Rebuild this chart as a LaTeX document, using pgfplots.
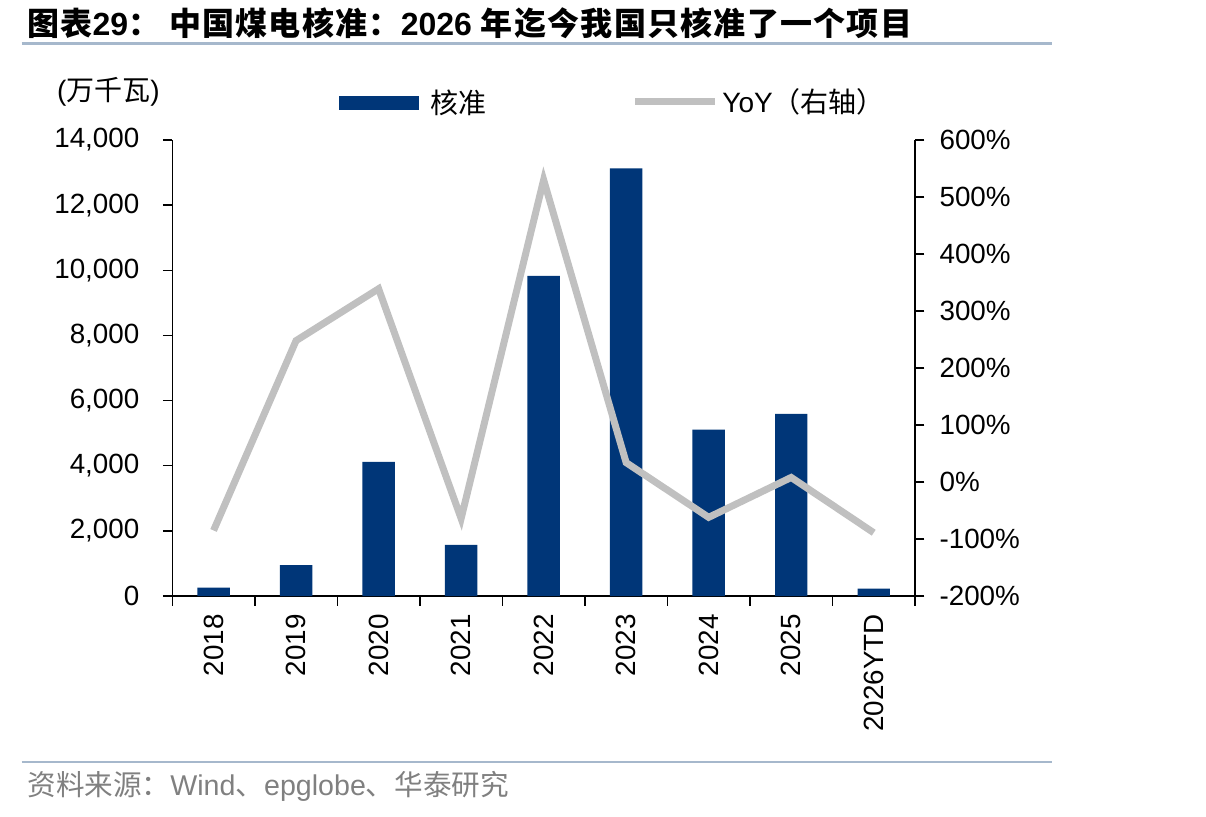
\documentclass[border=0pt]{standalone}
\usepackage{fontspec}
\setmainfont{Liberation Sans}
\newfontfamily\cjk{Noto Sans CJK SC}
\newfontfamily\cjkt[LetterSpace=4]{Noto Sans CJK SC}
\usepackage{pgfplots}
\usepackage{pgfplotstable}
\pgfplotsset{compat=1.18}
\definecolor{barblue}{RGB}{0,54,120}
\definecolor{linegray}{RGB}{192,192,192}
\definecolor{rulecol}{RGB}{166,184,204}
\definecolor{srcgray}{RGB}{128,128,128}

\pgfplotstableread{
x val yoy
0 260 -85
1 950 248
2 4120 339
3 1570 -64
4 9830 530
5 13130 34
6 5110 -62
7 5590 8
8 230 -89
}\data

\begin{document}
\begin{tikzpicture}
\path[use as bounding box] (0pt,0pt) rectangle (603pt,408pt);
% title
\node[anchor=west,inner sep=0pt] at (13.5pt,396.3pt) {\fontsize{16}{16}\selectfont\bfseries{\cjkt 图表}29{\cjkt ：}\ {\cjkt 中国煤电核准：}2026\ {\cjkt 年迄今我国只核准了一个项目}};
\draw[rulecol,line width=1.3pt] (10.75pt,386.3pt) -- (526pt,386.3pt);
\draw[rulecol,line width=1.1pt] (10.75pt,27pt) -- (526pt,27pt);
\node[anchor=west,inner sep=0pt,text=srcgray] at (13.5pt,15pt) {\fontsize{14.3}{14.3}\selectfont{\cjk 资料来源：}Wind{\cjk 、}epglobe{\cjk 、华泰研究}};
% unit
\node[anchor=west,inner sep=0pt] at (28.3pt,362pt) {\fontsize{14}{14}\selectfont({\cjk 万千瓦})};
% legend
\fill[barblue] (169.5pt,353pt) rectangle (209.5pt,360.1pt);
\node[anchor=west,inner sep=0pt] at (215pt,356.7pt) {\fontsize{14}{14}\selectfont\cjk 核准};
\draw[linegray,line width=3.5pt] (317.5pt,357pt) -- (357.5pt,357pt);
\node[anchor=west,inner sep=0pt] at (361pt,357pt) {\fontsize{14}{14}\selectfont YoY{\cjk （右轴）}};

\begin{axis}[
  at={(86.15pt,110pt)}, anchor=south west, scale only axis,
  width=371.35pt, height=228pt,
  xmin=-0.5, xmax=8.5, ymin=0, ymax=14000,
  axis y line*=left, axis x line*=bottom,
  ytick={0,2000,...,14000},
  scaled y ticks=false,
  tick align=outside, major tick length=4.75pt,
  axis line style={line width=0.75pt},
  every tick/.style={black,line width=0.75pt},
  /pgf/number format/1000 sep={,},
  /pgf/number format/assume math mode=true,
  yticklabel style={font=\fontsize{13.9}{13.9}\selectfont, xshift=-8.2pt},
  xtick={-0.5,0.5,...,8.5}, xticklabels={},
  extra x ticks={0,1,2,3,4,5,6,7,8},
  extra x tick labels={2018,2019,2020,2021,2022,2023,2024,2025,2026YTD},
  extra x tick style={major tick length=0pt, tick label style={rotate=90, anchor=east, font=\fontsize{13.9}{13.9}\selectfont, xshift=-5.6pt}},
  clip=false,
]
\addplot[ybar, bar width=16.2pt, fill=barblue, draw=none] table[x=x,y=val]{\data};
\end{axis}

\begin{axis}[
  at={(86.15pt,110pt)}, anchor=south west, scale only axis,
  width=371.35pt, height=228pt,
  xmin=-0.5, xmax=8.5, ymin=-200, ymax=600,
  axis y line*=right, axis x line=none,
  ytick={-200,-100,...,600},
  tick align=outside, major tick length=4.75pt,
  axis line style={line width=0.75pt},
  every tick/.style={black,line width=0.75pt},
  /pgf/number format/assume math mode=true,
  yticklabel={\pgfmathprintnumber{\tick}\%},
  yticklabel style={font=\fontsize{13.9}{13.9}\selectfont, xshift=4pt},
  clip=false,
]
\addplot[linegray, line width=3.5pt, mark=none] table[x=x,y=yoy]{\data};
\end{axis}
\end{tikzpicture}
\end{document}
